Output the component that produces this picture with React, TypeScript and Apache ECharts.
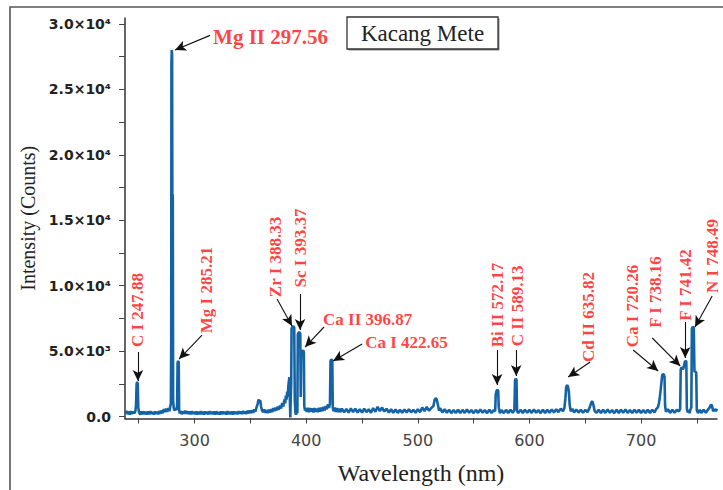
import React, { useEffect, useRef } from "react";
import * as echarts from "echarts";

// ---- Data (wavelength nm, intensity counts) ----
const spectrumA: number[][] = [
  [238, 260], [239, 420], [240, 180], [241, 380], [242, 160], [243, 400], [244, 200], [245, 370], [246, 240], [247, 420],
  [247.6, 900], [248.1, 2500], [248.6, 2650], [249.1, 2500], [249.6, 700], [250.3, 300], [251.5, 150], [252.5, 380], [253.5, 170],
  [254.5, 390], [255.5, 190], [256.5, 360], [257.5, 160], [258.5, 380], [259.5, 180], [260.5, 400], [261.5, 200], [262.5, 350],
  [263.5, 150], [264.5, 390], [265.5, 190], [266.5, 370], [267.5, 170], [268.5, 420], [269.5, 220], [270.5, 460], [271.5, 260],
  [272.5, 560], [273.5, 340], [274.5, 600], [275.5, 360], [276.5, 640], [277.5, 410], [278.3, 800], [278.8, 1000], [279.1, 6000],
  [279.3, 27000], [279.6, 28000], [279.9, 27600], [280.1, 17000], [280.5, 16900], [280.8, 1200], [281.3, 700], [282, 450],
  [283, 600], [283.8, 500], [284.4, 900], [284.8, 4100], [285.3, 4250], [285.8, 4150], [286.2, 500], [286.8, 240], [287.5, 420],
  [288.5, 180], [289.5, 390], [290.5, 210], [291.5, 440], [292.5, 220], [293.5, 410], [294.5, 190], [295.5, 380], [296.5, 170],
  [297.5, 400], [298.5, 200], [299.5, 370],
];
const spectrumB: number[][] = [
  [300.5, 180], [301.5, 380], [302.5, 160], [303.5, 360], [304.5, 190], [305.5, 400], [306.5, 170], [307.5, 370], [308.5, 150],
  [309.5, 390], [310.5, 200], [311.5, 360], [312.5, 160], [313.5, 410], [314.5, 210], [315.5, 370], [316.5, 170], [317.5, 380],
  [318.5, 150], [319.5, 400], [320.5, 190], [321.5, 350], [322.5, 160], [323.5, 380], [324.5, 180], [325.5, 390], [326.5, 200],
  [327.5, 370], [328.5, 160], [329.5, 400], [330.5, 190], [331.5, 360], [332.5, 170], [333.5, 380], [334.5, 150], [335.5, 390],
  [336.5, 200], [337.5, 370], [338.5, 180], [339.5, 400], [340.5, 210], [341.5, 380], [342.5, 190], [343.5, 420], [344.5, 220],
  [345.5, 390], [346.5, 200], [347.5, 440], [348.5, 240], [349.5, 460], [350.5, 260], [351.5, 490], [352.5, 280], [353.5, 540],
  [354.5, 380], [355.5, 700], [356.5, 950], [357.3, 1300], [358, 1150], [358.8, 1250], [359.6, 750], [360.5, 450], [361.5, 340],
  [362.5, 540], [363.5, 280], [364.5, 490], [365.5, 260], [366.5, 520], [367.5, 300], [368.5, 560], [369.5, 340], [370.5, 640],
  [371.5, 410], [372.5, 690], [373.5, 460], [374.5, 760], [375.5, 520], [376.5, 840], [377.5, 610], [378.5, 1040], [379.5, 760],
  [380.5, 1300], [381.2, 1000], [381.8, 1600], [382.4, 1300], [383, 1900], [383.5, 1500], [384, 2300], [384.5, 2700], [385, 3000],
  [385.4, 1200], [385.8, -80], [386.2, 1500], [386.6, 2600], [386.9, 6700], [387.6, 6850], [388.4, 6900], [389.3, 6800],
  [389.8, 1200], [390.4, 300], [390.9, 150], [391.5, 350], [392.1, 250], [392.5, 6300], [393.2, 6400], [393.9, 6450], [394.7, 6350],
  [395.1, 1500], [395.6, 4900], [396.4, 5000], [397.2, 5050], [397.9, 4950], [398.3, 800], [398.9, 450], [399.5, 650], [400.5, 360],
  [401.5, 660], [402.5, 340], [403.5, 640], [404.5, 380], [405.5, 620], [406.5, 320], [407.5, 640], [408.5, 360], [409.5, 600],
  [410.5, 340], [411.5, 660], [412.5, 380], [413.5, 690], [414.5, 410], [415.5, 740], [416.5, 460], [417.5, 790], [418.5, 560],
  [419.5, 940], [420.5, 660], [421.3, 1000], [421.8, 4250], [422.5, 4350], [423.4, 4300], [423.8, 700], [424.5, 410], [425.5, 690],
  [426.5, 360], [427.5, 640], [428.5, 340], [429.5, 600],
];
const spectrumC: number[][] = [
  [430.5, 340], [432, 600], [434, 320], [436, 580], [438, 300], [440, 620], [442, 340], [444, 600], [446, 310], [448, 560],
  [450, 300], [452, 600], [454, 340], [456, 560], [458, 290], [460, 640], [462, 360], [464, 740], [466, 410], [468, 690],
  [470, 380], [472, 600], [474, 300], [476, 560], [478, 290], [480, 540], [482, 280], [484, 520], [486, 290], [488, 540],
  [490, 300], [492, 560], [494, 320], [496, 520], [498, 290], [500, 560], [502, 340], [504, 690], [506, 410], [508, 740],
  [510, 440], [512, 640], [514, 800], [515, 1250], [516, 1400], [517, 1300], [518, 900], [519, 450], [520, 640], [522, 310],
  [524, 560], [526, 290], [528, 520], [530, 260], [532, 500], [534, 280], [536, 520], [538, 260], [540, 510], [542, 280],
  [544, 540], [546, 290], [548, 500], [550, 260], [552, 510], [554, 280], [556, 530], [558, 290], [560, 500], [562, 260],
  [564, 520], [566, 280], [568, 490], [569.3, 400], [569.8, 1700], [570.5, 1950], [571.3, 2050], [572, 1950], [572.5, 700],
  [573.5, 260], [575, 500], [577, 260], [579, 510], [581, 280], [583, 520], [585, 290], [586.5, 500], [587.1, 2750],
  [587.7, 2900], [588.4, 2800], [588.9, 400], [590, 260], [592, 510], [594, 280], [596, 520], [598, 290],
];
const spectrumD: number[][] = [
  [600, 510], [602, 280], [604, 530], [606, 290], [608, 500], [610, 260], [612, 520], [614, 280], [616, 510], [618, 290],
  [620, 540], [622, 310], [624, 560], [626, 340], [628, 600], [630, 410], [631.3, 650], [632.2, 1400], [632.9, 2250],
  [633.7, 2400], [634.5, 2300], [635.3, 1900], [636, 900], [637, 410], [638.5, 590], [640, 310], [642, 540], [644, 300],
  [646, 520], [648, 290], [650, 510], [652, 340], [654, 700], [655.5, 1100], [656.5, 1150], [657.5, 800], [658.5, 410],
  [660, 290], [662, 520], [664, 270], [666, 510], [668, 280], [670, 530], [672, 290], [674, 500], [676, 260], [678, 520],
  [680, 280], [682, 510], [684, 290], [686, 530], [688, 280], [690, 500], [692, 270], [694, 520], [696, 290], [698, 510],
  [700, 280], [702, 500], [704, 270], [706, 510], [708, 280], [710, 520], [712, 310], [713.5, 560], [715, 700], [716, 1000],
  [716.8, 1500], [717.5, 2000], [718.2, 2600], [718.9, 3150], [719.7, 3250], [720.4, 3200], [721, 3050], [721.5, 800],
  [722.3, 360], [724, 560], [726, 280], [728, 520], [730, 290], [732, 510], [734, 400], [735, 600], [735.5, 3600],
  [736.2, 3750], [736.9, 3700], [737.4, 3600], [737.9, 3700], [738.5, 3900], [739.1, 4150], [739.8, 4250], [740.5, 4200],
  [741, 600], [741.8, 310], [742.6, 490], [743.4, 260], [744.2, 540], [745, 700], [745.5, 6700], [746.3, 6850],
  [747.2, 6800], [747.8, 3400], [748.6, 3450], [749.4, 3350], [749.9, 500], [751, 260], [752.5, 510], [754, 280], [756, 520],
  [758, 290], [760, 540], [761.5, 700], [762.5, 900], [763.5, 850], [764.5, 400], [766, 560], [767, 410], [768, 600],
];

// ---- Axis ticks ----
const xTickValues = [250, 300, 350, 400, 450, 500, 550, 600, 650, 700, 750];
const xLabelValues = [300, 400, 500, 600, 700];
const yTickValues = [0, 2500, 5000, 7500, 10000, 12500, 15000, 17500, 20000, 22500, 25000, 27500, 30000];
const yLabelValues = [0, 5000, 10000, 15000, 20000, 25000, 30000];
const yLabelTexts = ["0.0", "5.0×10³", "1.0×10⁴", "1.5×10⁴", "2.0×10⁴", "2.5×10⁴", "3.0×10⁴"];

// ---- Peak annotations: text, label anchor [nm, counts], vertical?, arrow start, arrow end ----
const annoText = [
  "Mg II 297.56", "C I 247.88", "Mg I 285.21", "Zr I 388.33", "Sc I 393.37", "Ca II 396.87", "Ca I 422.65",
  "Bi II 572.17", "C II 589.13", "Cd II 635.82", "Ca I 720.26", "F I 738.16", "F I 741.42", "N I 748.49",
];
const annoAnchor = [
  [316.6, 29007], [249.3, 8140], [310.3, 9669], [372.1, 12191], [394.5, 12879], [415.1, 7376], [452.8, 5694],
  [571.0, 8523], [589.0, 8446], [652.6, 7605], [692.0, 8446], [712.6, 9516], [739.5, 10051], [763.7, 12268],
];
const annoVertical = [false, true, true, true, true, false, false, true, true, true, true, true, true, true];
const arrowFrom = [
  [313.9, 29122], [249.3, 4930], [306.7, 6229], [373.9, 8981], [394.5, 9363], [416.0, 6841], [450.1, 5541],
  [571.0, 5083], [588.1, 5083], [654.4, 4166], [692.9, 5083], [710.0, 6000], [739.5, 7223], [763.7, 9210],
];
const arrowTo = [
  [282.5, 28013], [249.3, 2713], [286.1, 4394], [387.3, 6917], [394.5, 6612], [399.0, 5312], [424.1, 4242],
  [571.0, 2408], [588.1, 3096], [634.7, 3019], [715.3, 3478], [735.1, 3860], [739.5, 4471], [748.3, 6841],
];

const SERIF = "Liberation Serif, Times New Roman, Tinos, DejaVu Serif, serif";
const SANS = "DejaVu Sans";

export default function App() {
  const ref = useRef<HTMLDivElement>(null);
  useEffect(() => {
    if (!ref.current) return;
    const chart = echarts.init(ref.current, null, { renderer: "svg" });
    const spectrum = [...spectrumA, ...spectrumB, ...spectrumC, ...spectrumD];
    const labelData = annoText.map((t, i) => ({
      value: annoAnchor[i],
      label: annoVertical[i]
        ? { show: true, formatter: t, rotate: 90, position: "inside", align: "center", verticalAlign: "middle" }
        : { show: true, formatter: t, position: "right", distance: 0, align: "left", verticalAlign: "middle", fontSize: i === 0 ? 21 : 17 },
    }));
    const arrows = arrowFrom.map((f, i) => [{ coord: f }, { coord: arrowTo[i] }]);
    chart.setOption({
      animation: false,
      backgroundColor: "#fff",
      textStyle: { fontFamily: SERIF },
      grid: { left: 125, right: 6, top: 18, bottom: 71.5, containLabel: false },
      xAxis: {
        type: "value",
        min: 237.7,
        max: 768,
        name: "Wavelength (nm)",
        nameLocation: "middle",
        nameGap: 42,
        nameTextStyle: { fontFamily: SERIF, fontSize: 24, color: "#222" },
        axisLine: { show: true, onZero: false, lineStyle: { color: "#333", width: 1.5 } },
        axisTick: { show: true, customValues: xTickValues, length: 5, lineStyle: { color: "#444", width: 1 } },
        axisLabel: { customValues: xLabelValues, margin: 14, fontFamily: SANS, fontSize: 16, color: "#444" },
        splitLine: { show: false },
      },
      yAxis: {
        type: "value",
        min: -150,
        max: 30450,
        name: "Intensity (Counts)",
        nameLocation: "middle",
        nameGap: 86,
        nameTextStyle: { fontFamily: SERIF, fontSize: 20, color: "#222" },
        axisLine: { show: true, onZero: false, lineStyle: { color: "#333", width: 1.5 } },
        axisTick: { show: true, customValues: yTickValues, length: 6, lineStyle: { color: "#444", width: 1 } },
        axisLabel: {
          customValues: yLabelValues,
          margin: 14,
          fontFamily: SANS,
          fontWeight: "bold",
          fontSize: 14,
          color: "#222",
          formatter: (v: number) => {
            const idx = yLabelValues.indexOf(v);
            return idx >= 0 ? yLabelTexts[idx] : "";
          },
        },
        splitLine: { show: false },
      },
      series: [
        {
          type: "line",
          data: spectrum,
          showSymbol: false,
          symbol: "none",
          lineStyle: { color: "#1463a7", width: 2.6 },
          silent: true,
          z: 2,
          markLine: {
            silent: true,
            symbol: ["none", "arrow"],
            symbolSize: [8, 11],
            label: { show: false },
            lineStyle: { color: "#111", width: 1.1, type: "solid" },
            emphasis: { disabled: true },
            data: arrows,
          },
        },
        {
          type: "scatter",
          data: labelData,
          symbolSize: 0,
          silent: true,
          z: 5,
          label: { fontFamily: SERIF, fontWeight: "bold", fontSize: 17, color: "#ff1010" },
        },
      ],
      graphic: [
        {
          type: "polyline",
          shape: { points: [[10, 490], [10, 7], [723, 7]] },
          style: { stroke: "#555", lineWidth: 1.6, fill: null },
          silent: true,
        },
        {
          type: "rect",
          shape: { x: 348.5, y: 18.5, width: 151, height: 32 },
          style: { fill: "#888", stroke: null },
          silent: true,
        },
        {
          type: "rect",
          shape: { x: 347, y: 17, width: 151, height: 32 },
          style: { fill: "#fff", stroke: "#333", lineWidth: 1.3 },
          silent: true,
        },
        {
          type: "text",
          x: 422.5,
          y: 33,
          style: {
            text: "Kacang Mete",
            fontFamily: SERIF,
            fontSize: 23,
            fill: "#222",
            align: "center",
            verticalAlign: "middle",
          },
          silent: true,
        },
      ],
    });
    return () => chart.dispose();
  }, []);
  return (
    <div
      ref={ref}
      style={{ position: "absolute", left: 0, top: 0, width: 723, height: 490, background: "#fff" }}
    />
  );
}
